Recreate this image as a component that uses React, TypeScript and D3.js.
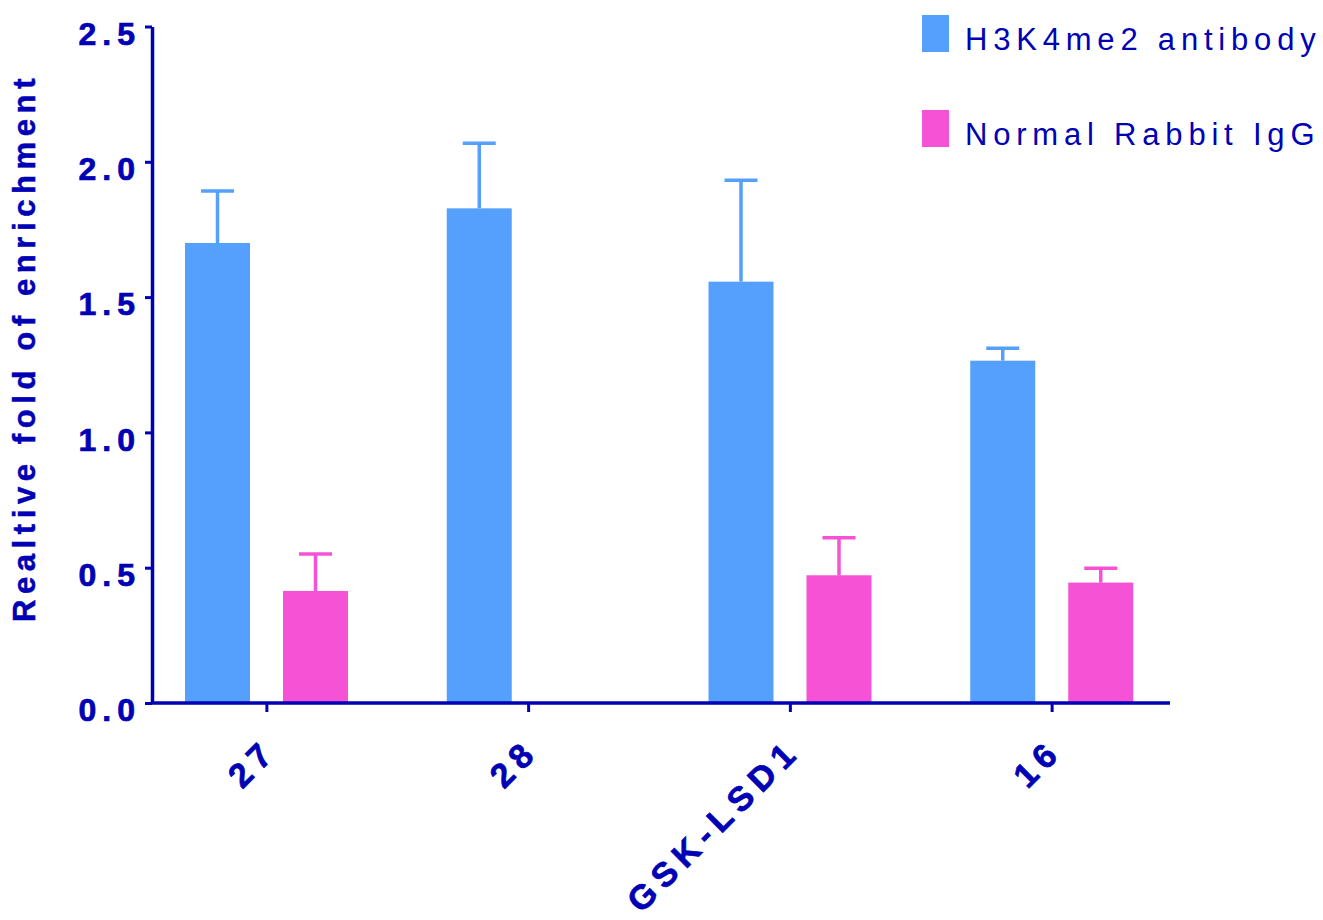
// @ts-nocheck
import React, { useEffect, useRef } from "react";
import * as d3 from "d3";

const categories = ["27", "28", "GSK-LSD1", "16"];
const seriesNames = ["H3K4me2 antibody", "Normal Rabbit IgG"];
const seriesColors = ["#56a0fd", "#f552d6"];
const antibodyValues = [1.7, 1.828, 1.557, 1.265];
const antibodyErrors = [0.192, 0.241, 0.375, 0.046];
const iggValues = [0.414, null, 0.472, 0.445];
const iggErrors = [0.137, null, 0.139, 0.053];
const yTicks = [0, 0.5, 1.0, 1.5, 2.0, 2.5];

const INK = "#0000b4";
const FONT = "'Liberation Sans', Arial, Helvetica, sans-serif";

const App = () => {
  const ref = useRef();

  useEffect(() => {
    const svg = d3.select(ref.current);
    svg.selectAll("*").remove();

    const margin = { top: 26.5, bottom: 703, left: 152, right: 1170 };

    const rows = categories.map((c, i) => ({
      cat: c,
      vals: [
        { s: seriesNames[0], v: antibodyValues[i], e: antibodyErrors[i], color: seriesColors[0] },
        { s: seriesNames[1], v: iggValues[i], e: iggErrors[i], color: seriesColors[1] }
      ]
    }));

    const x0 = d3.scaleBand().domain(categories).range([136, 1183]).padding(0);
    const x1 = d3
      .scaleBand()
      .domain(seriesNames)
      .range([49, 212])
      .paddingInner(33 / 98)
      .paddingOuter(0);
    const y = d3.scaleLinear().domain([0, 2.5]).range([margin.bottom, margin.top]);

    // bars
    const groups = svg
      .append("g")
      .selectAll("g")
      .data(rows)
      .join("g")
      .attr("transform", d => `translate(${x0(d.cat)},0)`);

    const items = groups
      .selectAll("g")
      .data(d => d.vals.filter(v => v.v != null))
      .join("g");

    items
      .append("rect")
      .attr("x", d => x1(d.s))
      .attr("width", x1.bandwidth())
      .attr("y", d => y(d.v))
      .attr("height", d => y(0) - y(d.v))
      .attr("fill", d => d.color);

    // error bars (upper only)
    items
      .append("line")
      .attr("x1", d => x1(d.s) + x1.bandwidth() / 2)
      .attr("x2", d => x1(d.s) + x1.bandwidth() / 2)
      .attr("y1", d => y(d.v))
      .attr("y2", d => y(d.v + d.e))
      .attr("stroke", d => d.color)
      .attr("stroke-width", 3.5);
    items
      .append("line")
      .attr("x1", d => x1(d.s) + x1.bandwidth() / 2 - 16.5)
      .attr("x2", d => x1(d.s) + x1.bandwidth() / 2 + 16.5)
      .attr("y1", d => y(d.v + d.e))
      .attr("y2", d => y(d.v + d.e))
      .attr("stroke", d => d.color)
      .attr("stroke-width", 3.5);

    // y axis
    const yAxis = svg
      .append("g")
      .attr("transform", `translate(${margin.left},0)`)
      .call(
        d3
          .axisLeft(y)
          .tickValues(yTicks)
          .tickFormat(d3.format(".1f"))
          .tickSize(7)
          .tickPadding(4)
          .tickSizeOuter(0)
      );
    yAxis.select(".domain").attr("stroke", INK).attr("stroke-width", 3.5);
    yAxis.selectAll(".tick line").attr("stroke", INK).attr("stroke-width", 3);
    yAxis
      .selectAll(".tick text")
      .attr("fill", INK)
      .attr("stroke", INK)
      .attr("stroke-width", 0.7)
      .attr("dy", "0.55em")
      .style("font-family", FONT)
      .style("font-size", "32px")
      .style("font-weight", "bold")
      .style("letter-spacing", "6px");

    // x axis
    svg
      .append("line")
      .attr("x1", margin.left)
      .attr("x2", margin.right)
      .attr("y1", y(0))
      .attr("y2", y(0))
      .attr("stroke", INK)
      .attr("stroke-width", 3.5);

    const xt = svg
      .append("g")
      .selectAll("g")
      .data(categories)
      .join("g")
      .attr("transform", d => `translate(${x0(d) + x0.bandwidth() / 2},${y(0)})`);
    xt.append("line").attr("y1", 0).attr("y2", 9).attr("stroke", INK).attr("stroke-width", 3);
    xt.append("text")
      .attr("transform", "translate(12,50) rotate(-45)")
      .attr("text-anchor", "end")
      .attr("fill", INK)
      .attr("stroke", INK)
      .attr("stroke-width", 0.7)
      .style("font-family", FONT)
      .style("font-size", "34px")
      .style("font-weight", "bold")
      .style("letter-spacing", "7px")
      .text(d => d);

    // y title
    svg
      .append("text")
      .attr("transform", `translate(35,${(75 + 620) / 2}) rotate(-90)`)
      .attr("text-anchor", "middle")
      .attr("fill", INK)
      .attr("stroke", INK)
      .attr("stroke-width", 0.5)
      .style("font-family", FONT)
      .style("font-size", "31px")
      .style("font-weight", "bold")
      .style("letter-spacing", "5.6px")
      .text("Realtive fold of enrichment");

    // legend
    const legend = svg
      .append("g")
      .selectAll("g")
      .data(seriesNames)
      .join("g")
      .attr("transform", (d, i) => `translate(922,${15 + i * 95})`);
    legend
      .append("rect")
      .attr("width", 27)
      .attr("height", 37)
      .attr("fill", (d, i) => seriesColors[i]);
    legend
      .append("text")
      .attr("x", 43)
      .attr("y", 35)
      .attr("fill", INK)
      .style("font-family", FONT)
      .style("font-size", "31px")
      .style("letter-spacing", "5.8px")
      .text(d => d);
  }, []);

  return (
    <svg
      ref={ref}
      width={1323}
      height={920}
      style={{ position: "absolute", left: 0, top: 0, background: "#fff" }}
    ></svg>
  );
};

export default App;
